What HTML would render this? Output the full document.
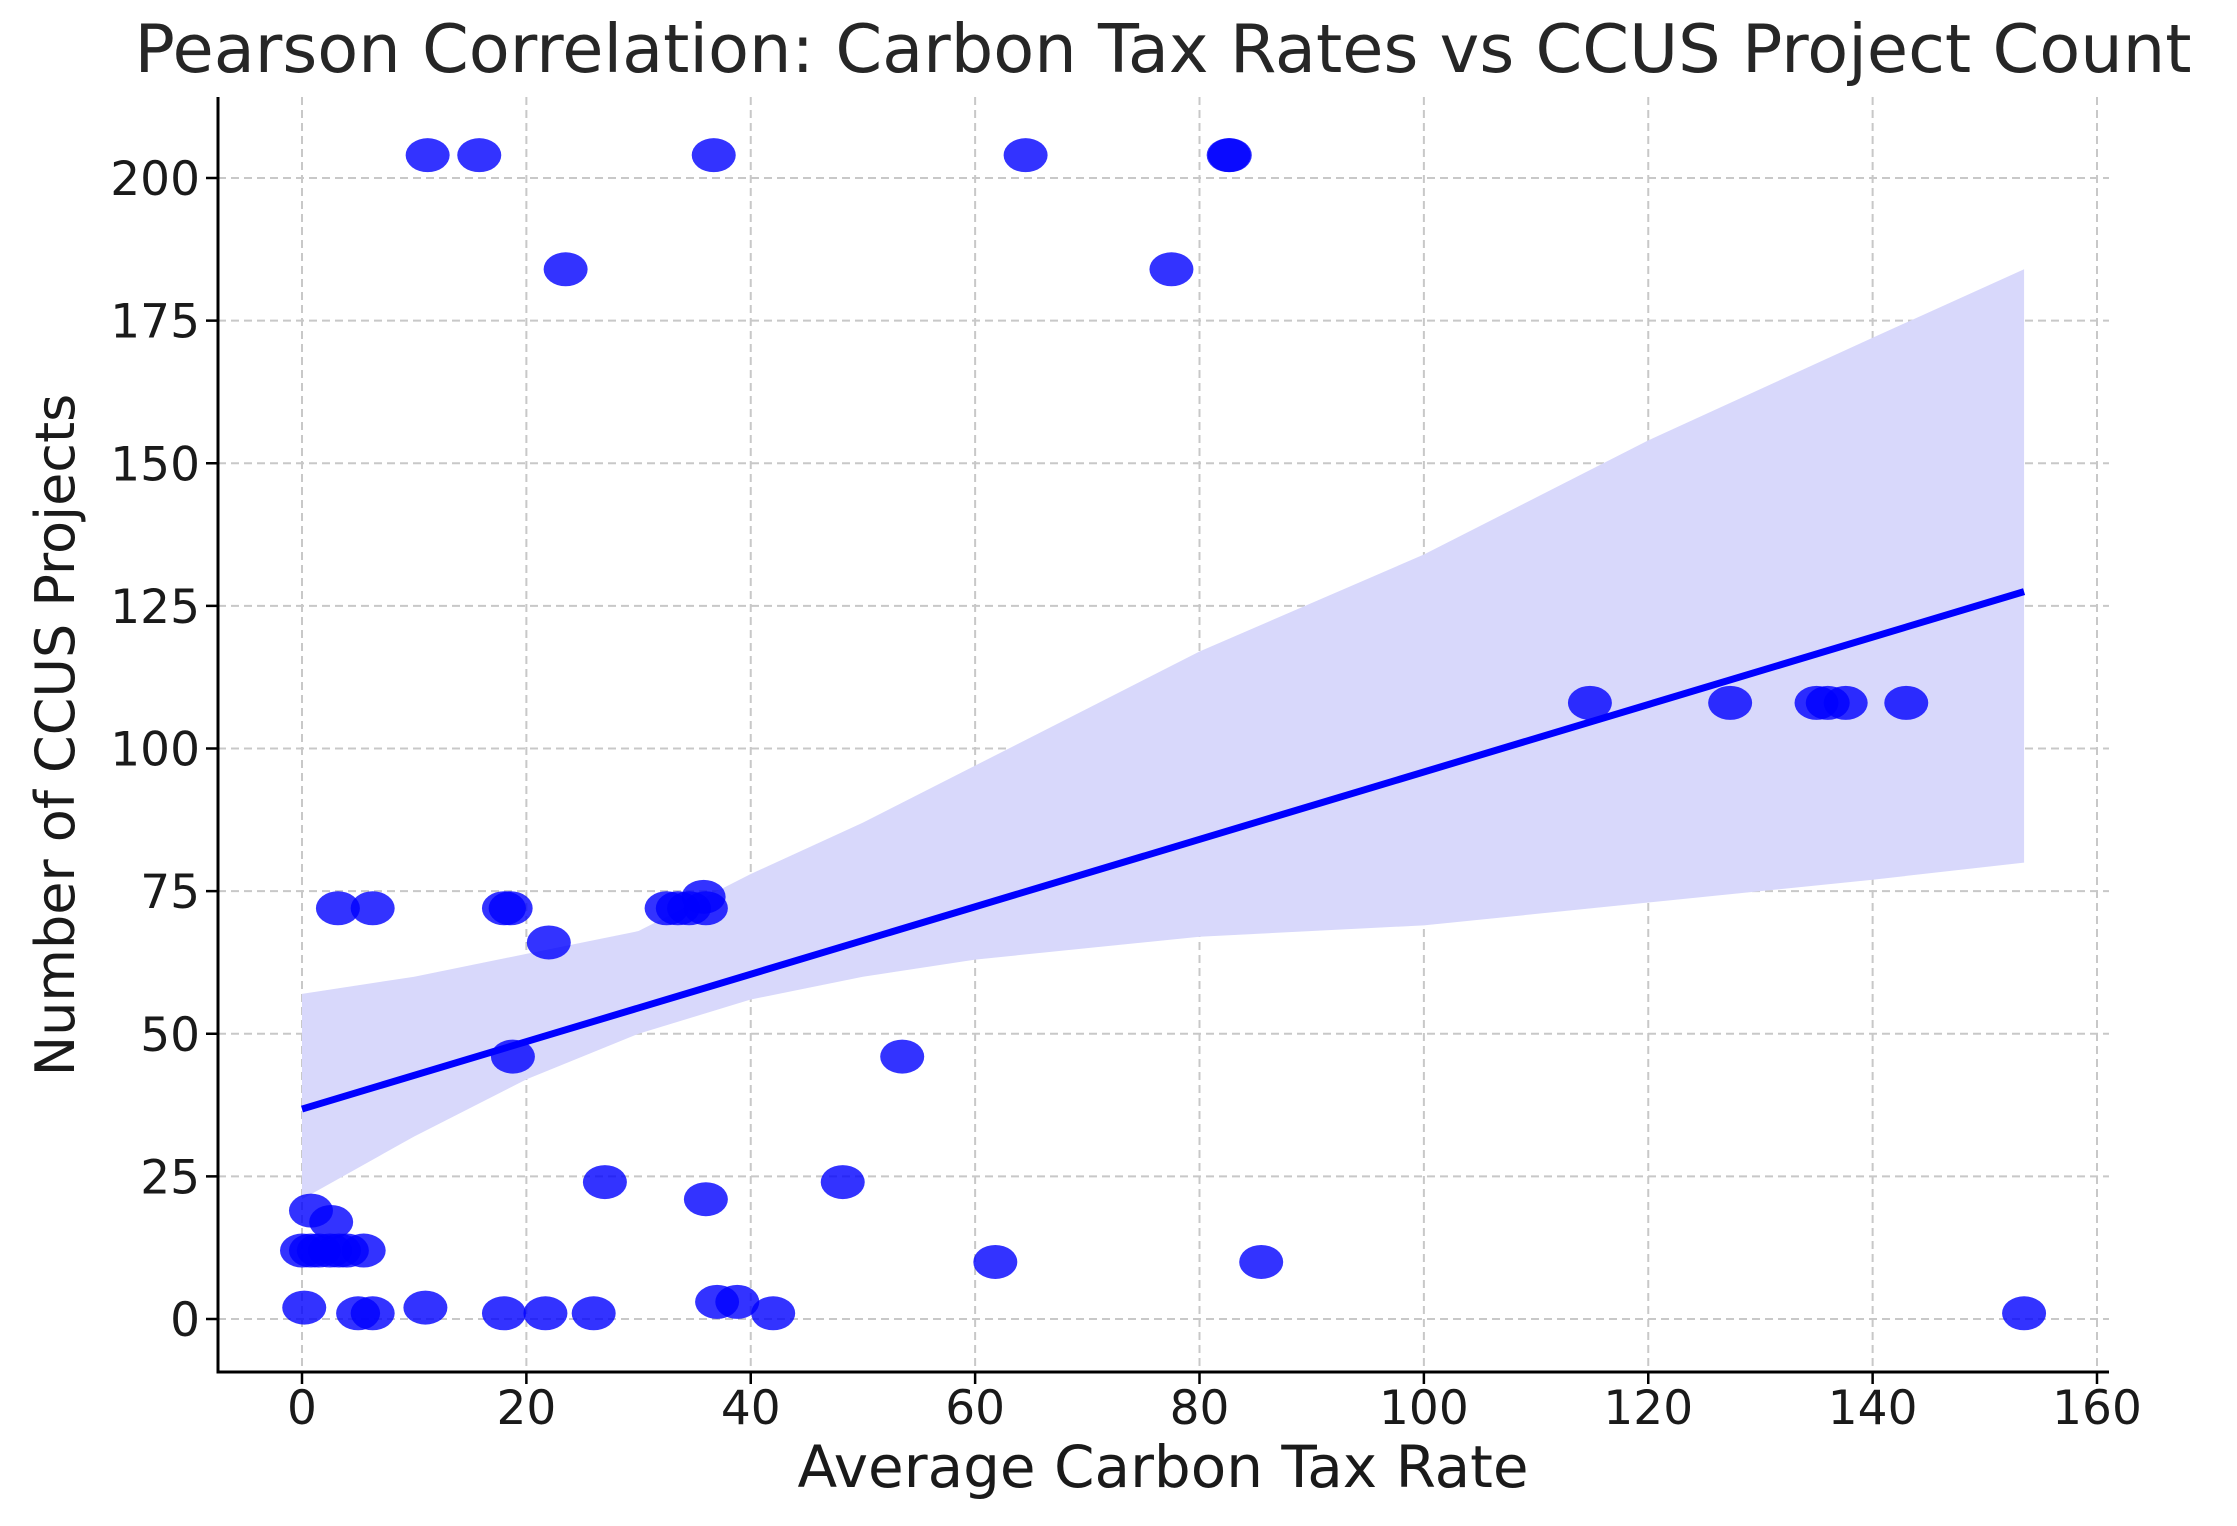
<!DOCTYPE html>
<html><head><meta charset="utf-8"><style>
html,body{margin:0;padding:0;background:#fff;}
svg{display:block;font-family:"DejaVu Sans","Liberation Sans",sans-serif;}
</style></head><body>
<svg id="chart" width="2237" height="1526" viewBox="0 0 2237 1526" xmlns="http://www.w3.org/2000/svg">
<text x="1163" y="72" font-size="67" text-anchor="middle" fill="#262626">Pearson Correlation: Carbon Tax Rates vs CCUS Project Count</text>
<text x="1163" y="1487" font-size="58" text-anchor="middle" fill="#1a1a1a">Average Carbon Tax Rate</text>
<text transform="translate(74,735) rotate(-90)" font-size="54" text-anchor="middle" fill="#1a1a1a">Number of CCUS Projects</text>
<g id="grid"></g><g id="band"></g><g id="pts"></g><g id="axes"></g>
</svg>
<script>
const xTicks=[0,20,40,60,80,100,120,140,160];
const yTicks=[0,25,50,75,100,125,150,175,200];
const xVals=[11.2,15.8,36.7,64.5,82.6,82.7,23.5,77.5,114.8,127.3,135,136,137.6,143,3.2,6.3,18,18.6,32.5,33.5,34.5,35.8,36,22,18.8,53.5,27,48.2,36,0.8,2.6,0,0.8,1.5,2.5,3.3,4,5.5,61.8,85.5,0.2,11,37,38.8,5,6.3,18,21.7,26,42,153.5];
const yVals=[204,204,204,204,204,204,184,184,108,108,108,108,108,108,72,72,72,72,72,72,72,74,72,66,46,46,24,24,21,19,17,12,12,12,12,12,12,12,10,10,2,2,3,3,1,1,1,1,1,1,1];
const bandX=[0,10,20,30,40,50,60,70,80,100,120,140,153.5];
const bandUpper=[57,60,64,68,78,87,97,107,117,134,154,172,184];
const bandLower=[21,32,42,50,56,60,63,65,67,69,73,77,80];
const fitX=[0,153.5];
const fitY=[36.8,127.5];
const NS='http://www.w3.org/2000/svg';
const L=218,R=2109,T=97,B=1372;
const sx=v=>302+(v)*(2097-302)/160;
const sy=v=>1319-(v)*(1319-178)/200;
function mk(tag,attrs,parent){const e=document.createElementNS(NS,tag);for(const k in attrs)e.setAttribute(k,attrs[k]);parent.appendChild(e);return e;}
const grid=document.getElementById('grid'),axes=document.getElementById('axes'),band=document.getElementById('band'),pts=document.getElementById('pts');
xTicks.forEach(t=>{
 const g=mk('line',{x1:sx(t),x2:sx(t),y1:T,y2:B,stroke:'#c8c8c8','stroke-width':2,'stroke-dasharray':'8,5'},grid);
 
 
 const tk=mk('line',{x1:sx(t),x2:sx(t),y1:B,y2:B+12,stroke:'#000','stroke-width':2.5},axes);
 
 
 const tx=mk('text',{x:sx(t),y:1424,'font-size':47,'text-anchor':'middle',fill:'#1a1a1a'},axes);
 tx.textContent=t;
 
 
});
yTicks.forEach(t=>{
 const g=mk('line',{x1:L,x2:R,y1:sy(t),y2:sy(t),stroke:'#c8c8c8','stroke-width':2,'stroke-dasharray':'8,5'},grid);
 
 
 const tk=mk('line',{x1:L-12,x2:L,y1:sy(t),y2:sy(t),stroke:'#000','stroke-width':2.5},axes);
 
 
 const tx=mk('text',{x:L-18,y:sy(t)+17,'font-size':47,'text-anchor':'end',fill:'#1a1a1a'},axes);
 tx.textContent=t;
 
 
});
let d='M'+bandX.map((x,i)=>sx(x)+','+sy(bandUpper[i])).join(' L');
for(let i=bandX.length-1;i>=0;i--)d+=' L'+sx(bandX[i])+','+sy(bandLower[i]);
const bp=mk('path',{d:d+'Z',fill:'#d8d8fb'},band);


xVals.forEach((x,i)=>{
 const c=mk('ellipse',{cx:sx(x),cy:sy(yVals[i]),rx:22,ry:17,fill:'#0000ff','fill-opacity':0.8},pts);
 
 
});
const fl=mk('line',{x1:sx(fitX[0]),y1:sy(fitY[0]),x2:sx(fitX[1]),y2:sy(fitY[1]),stroke:'#0000ff','stroke-width':7},pts);


const ax1=mk('line',{x1:L,x2:L,y1:T,y2:B+1.5,stroke:'#000','stroke-width':3},axes);


const ax2=mk('line',{x1:L-1.5,x2:R,y1:B,y2:B,stroke:'#000','stroke-width':3},axes);


</script>
</body></html>
